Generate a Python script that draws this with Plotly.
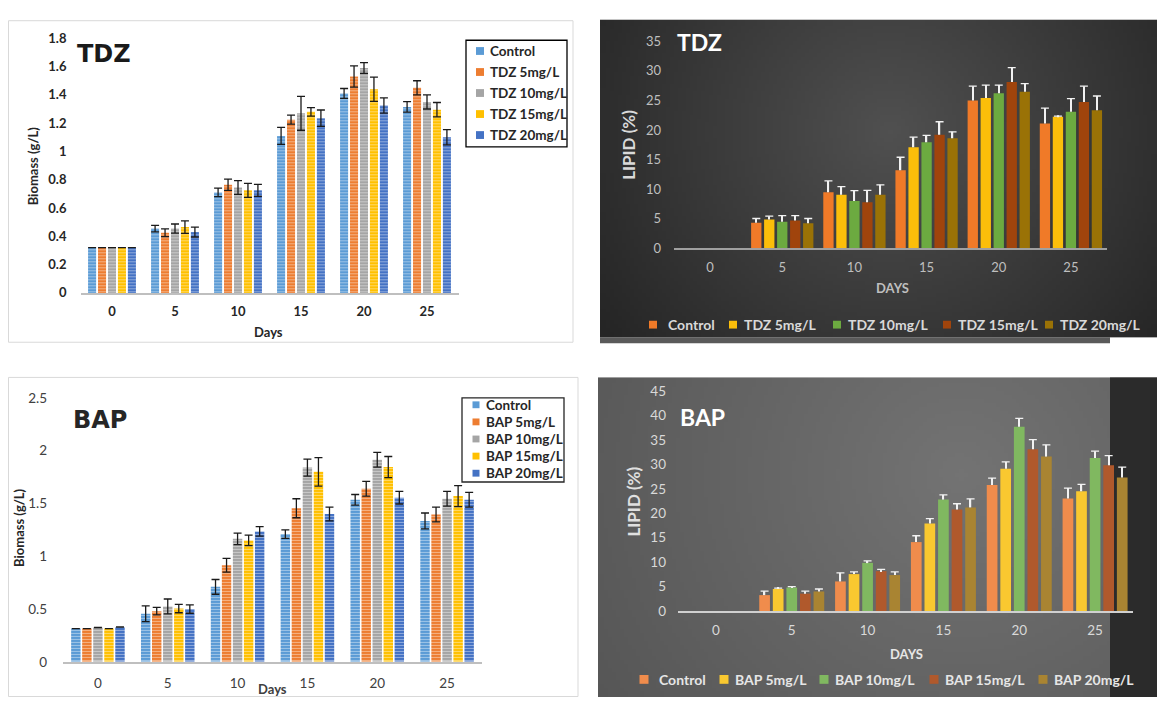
import math
import zlib
import struct
import base64
import plotly.graph_objects as go

W, H = 1157, 705

# ---------------------------------------------------------------- data
days = ["0", "5", "10", "15", "20", "25"]

tdz_names = ["Control", "TDZ 5mg/L", "TDZ 10mg/L", "TDZ 15mg/L", "TDZ 20mg/L"]
bap_names = ["Control", "BAP 5mg/L", "BAP 10mg/L", "BAP 15mg/L", "BAP 20mg/L"]

# Biomass (g/L) under TDZ
tdz_bio_control = [0.32, 0.455, 0.71, 1.11, 1.41, 1.315]
tdz_bio_5 = [0.32, 0.425, 0.765, 1.225, 1.53, 1.45]
tdz_bio_10 = [0.32, 0.455, 0.745, 1.27, 1.59, 1.35]
tdz_bio_15 = [0.32, 0.465, 0.725, 1.28, 1.44, 1.295]
tdz_bio_20 = [0.32, 0.43, 0.725, 1.235, 1.325, 1.10]
tdz_bio_control_sd = [None, 0.023, 0.03, 0.06, 0.035, 0.037]
tdz_bio_5_sd = [None, 0.027, 0.04, 0.032, 0.075, 0.05]
tdz_bio_10_sd = [None, 0.032, 0.049, 0.12, 0.038, 0.05]
tdz_bio_15_sd = [None, 0.044, 0.049, 0.03, 0.086, 0.051]
tdz_bio_20_sd = [None, 0.035, 0.042, 0.058, 0.054, 0.054]

# Lipid (%) under TDZ
tdz_lip_control = [0, 4.35, 9.5, 13.2, 25.0, 21.1]
tdz_lip_5 = [0, 4.9, 9.05, 17.1, 25.4, 22.25]
tdz_lip_10 = [0, 4.5, 8.0, 17.95, 26.2, 23.1]
tdz_lip_15 = [0, 4.7, 7.8, 19.2, 28.1, 24.75]
tdz_lip_20 = [0, 4.25, 9.05, 18.6, 26.45, 23.35]
tdz_lip_control_sd = [None, 0.7, 1.9, 2.2, 2.4, 2.6]
tdz_lip_5_sd = [None, 0.55, 1.4, 1.7, 2.2, 0.1]
tdz_lip_10_sd = [None, 1.05, 1.75, 1.15, 1.4, 2.2]
tdz_lip_15_sd = [None, 0.85, 2.0, 2.2, 2.45, 2.65]
tdz_lip_20_sd = [None, 0.8, 1.7, 1.1, 1.4, 2.4]

# Biomass (g/L) under BAP
bap_bio_control = [0.315, 0.455, 0.71, 1.21, 1.535, 1.335]
bap_bio_5 = [0.315, 0.48, 0.915, 1.455, 1.64, 1.395]
bap_bio_10 = [0.325, 0.525, 1.165, 1.84, 1.915, 1.545]
bap_bio_15 = [0.315, 0.505, 1.15, 1.8, 1.845, 1.57]
bap_bio_20 = [0.33, 0.5, 1.235, 1.4, 1.555, 1.535]
bap_bio_control_sd = [None, 0.075, 0.07, 0.04, 0.05, 0.075]
bap_bio_5_sd = [None, 0.035, 0.065, 0.09, 0.07, 0.07]
bap_bio_10_sd = [None, 0.07, 0.055, 0.08, 0.07, 0.07]
bap_bio_15_sd = [None, 0.04, 0.05, 0.135, 0.1, 0.1]
bap_bio_20_sd = [None, 0.04, 0.045, 0.065, 0.06, 0.07]

# Lipid (%) under BAP
bap_lip_control = [0, 3.25, 6.05, 14.1, 25.8, 23.0]
bap_lip_5 = [0, 4.5, 7.55, 17.9, 29.1, 24.5]
bap_lip_10 = [0, 4.8, 9.85, 22.8, 37.7, 31.3]
bap_lip_15 = [0, 3.55, 8.15, 20.75, 33.1, 29.85]
bap_lip_20 = [0, 4.0, 7.35, 21.2, 31.6, 27.3]
bap_lip_control_sd = [None, 0.8, 1.75, 1.3, 1.4, 2.15]
bap_lip_5_sd = [None, 0.2, 0.45, 1.0, 1.4, 1.4]
bap_lip_10_sd = [None, 0.2, 0.4, 0.95, 1.7, 1.4]
bap_lip_15_sd = [None, 0.5, 0.35, 1.2, 1.95, 1.95]
bap_lip_20_sd = [None, 0.5, 0.65, 1.75, 2.4, 2.15]

tdz_bio_ticks = ["0", "0.2", "0.4", "0.6", "0.8", "1", "1.2", "1.4", "1.6", "1.8"]
tdz_lip_ticks = ["0", "5", "10", "15", "20", "25", "30", "35"]
bap_bio_ticks = ["0", "0.5", "1", "1.5", "2", "2.5"]
bap_lip_ticks = ["0", "5", "10", "15", "20", "25", "30", "35", "40", "45"]

# ---------------------------------------------------------------- styles
bio_colors = ["#5B9BD5", "#ED7D31", "#A5A5A5", "#FFC000", "#4472C4"]
tdz_lip_colors = ["#F07A28", "#FBBE0A", "#6CAA40", "#A0440C", "#9A7206"]
bap_lip_colors = ["#F08C4C", "#F9C830", "#80B860", "#B0592C", "#A98432"]

FONT = "Lato"


def px(x, y):
    """Pixel position -> paper fraction."""
    return x / W, 1 - y / H


def png_uri(w, h, color_at):
    """Encode a small RGB image (used for the panel background shading)."""
    raw = bytearray()
    for j in range(h):
        raw.append(0)
        for i in range(w):
            raw.extend(color_at(i / (w - 1), j / (h - 1)))

    def chunk(tag, data):
        body = tag + data
        return struct.pack(">I", len(data)) + body + struct.pack(">I", zlib.crc32(body) & 0xFFFFFFFF)

    png = (b"\x89PNG\r\n\x1a\n"
           + chunk(b"IHDR", struct.pack(">IIBBBBB", w, h, 8, 2, 0, 0, 0))
           + chunk(b"IDAT", zlib.compress(bytes(raw), 9))
           + chunk(b"IEND", b""))
    return "data:image/png;base64," + base64.b64encode(png).decode()


def radial(cx, cy, pw, ph, radius, inner, outer):
    def f(u, v):
        d = min(1.0, math.hypot((u - cx) * pw, (v - cy) * ph) / radius)
        return [int(round(a + (b - a) * d)) for a, b in zip(inner, outer)]
    return f


fig = go.Figure()
idx = list(range(len(days)))


def axis_ids(k):
    s = "" if k == 1 else str(k)
    return "x" + s, "y" + s, "xaxis" + s, "yaxis" + s


def setup_axes(k, geom, ticks, tickfont, line_color, line_width, xstand, ystand):
    xa, ya, xkey, ykey = axis_ids(k)
    x0, x1, yt, yb = geom
    vals = [float(t) for t in ticks]
    fx0, fyb = px(x0, yb)
    fx1, fyt = px(x1, yt)
    fig.layout[xkey] = dict(
        domain=[fx0, fx1], range=[-0.5, len(days) - 0.5],
        tickmode="array", tickvals=idx, ticktext=days,
        showline=True, linecolor=line_color, linewidth=line_width,
        ticks="", showgrid=False, zeroline=False, tickfont=tickfont,
        anchor=ya, fixedrange=True, ticklabelstandoff=xstand)
    fig.layout[ykey] = dict(
        domain=[fyb, fyt], range=[0, vals[-1]],
        tickmode="array", tickvals=vals, ticktext=ticks,
        showline=False, showgrid=False, zeroline=False, ticks="",
        tickfont=tickfont, anchor=xa, fixedrange=True, ticklabelstandoff=ystand)


def slots(pitch, width, n=5):
    start = -n * pitch / 2
    return [start + i * pitch + (pitch - width) / 2 for i in range(n)]


def add_biomass(k, values, errors, pitch, width):
    xa, ya, _, _ = axis_ids(k)
    for off, vals, errs, col in zip(slots(pitch, width), values, errors, bio_colors):
        fig.add_trace(go.Bar(
            x=idx, y=vals, xaxis=xa, yaxis=ya, width=width, offset=off,
            marker=dict(color=col, line=dict(width=0),
                        pattern=dict(shape="-", bgcolor=col, fgcolor="#ffffff",
                                     fgopacity=0.45, size=3, solidity=0.3)),
            error_y=dict(type="data", array=errs, visible=True, color="#1a1a1a",
                         thickness=1.3, width=4),
            showlegend=False, hoverinfo="skip"))


def add_lipid(k, values, errors, colors, pitch, width, cat_px):
    xa, ya, _, _ = axis_ids(k)
    stem = 1.3 / cat_px
    for off, vals, errs, col in zip(slots(pitch, width), values, errors, colors):
        fig.add_trace(go.Bar(
            x=idx, y=vals, xaxis=xa, yaxis=ya, width=width, offset=off,
            marker=dict(color=col, line=dict(width=0)),
            showlegend=False, hoverinfo="skip"))
        # upward-only error bar: thin stem on top of the bar with a cap
        fig.add_trace(go.Bar(
            x=idx, y=errs, base=vals, xaxis=xa, yaxis=ya,
            width=stem, offset=off + width / 2 - stem / 2,
            marker=dict(color="#f2f2f2", line=dict(width=0)),
            error_y=dict(type="constant", value=0, visible=True, color="#f2f2f2",
                         thickness=1.3, width=4),
            showlegend=False, hoverinfo="skip"))


def label(x, y, text, size, color, bold=True, family=FONT, angle=0, xanchor="center"):
    fx, fy = px(x, y)
    fig.add_annotation(x=fx, y=fy, xref="paper", yref="paper", text=text,
                       showarrow=False, textangle=angle, xanchor=xanchor,
                       yanchor="middle",
                       font=dict(family=family, size=size, color=color,
                                 weight="bold" if bold else "normal"))


def rect(x0, y0, x1, y1, fill=None, line_color=None, line_width=0):
    a, b = px(x0, y0)
    c, d = px(x1, y1)
    fig.add_shape(type="rect", xref="paper", yref="paper", x0=a, y0=b, x1=c, y1=d,
                  layer="below", fillcolor=fill if fill else "rgba(0,0,0,0)",
                  line=dict(color=line_color or "rgba(0,0,0,0)", width=line_width))


def shade(x0, y0, x1, y1, func):
    fx, fy = px(x0, y0)
    fig.add_layout_image(source=png_uri(140, 82, func), xref="paper", yref="paper",
                         x=fx, y=fy, sizex=(x1 - x0) / W, sizey=(y1 - y0) / H,
                         sizing="stretch", xanchor="left", yanchor="top", layer="below")


# ---------------------------------------------------------------- panel backgrounds
rect(8.5, 13, 573, 342, fill="#ffffff", line_color="#d9d9d9", line_width=1)
rect(8.5, 378, 578, 704.5, fill="#ffffff", line_color="#d9d9d9", line_width=1)

shade(600, 12, W, 337, radial(0.52, 0.35, 557, 325, 380, (80, 80, 80), (34, 34, 34)))
rect(600, 337, 1110, 343, fill="#5a5a5a")

shade(598, 378, W, H, radial(0.65, 0.3, 559, 327, 520, (115, 115, 115), (80, 80, 80)))
rect(1110, 378, W, H, fill="#2b2b2b")

# ---------------------------------------------------------------- panel 1: TDZ biomass
g1 = (80.5, 458.5, 31, 291.5)
setup_axes(1, g1, tdz_bio_ticks,
           dict(family=FONT, size=13, color="#262626", weight="bold"),
           "#bfbfbf", 2, 6, 13)
add_biomass(1,
            [tdz_bio_control, tdz_bio_5, tdz_bio_10, tdz_bio_15, tdz_bio_20],
            [tdz_bio_control_sd, tdz_bio_5_sd, tdz_bio_10_sd, tdz_bio_15_sd, tdz_bio_20_sd],
            0.158, 0.128)
label(104, 47, "TDZ", 24, "#1a1a1a", family="DejaVu Sans")
label(33, 162, "Biomass (g/L)", 13, "#262626", angle=-90)
label(268, 332, "Days", 13, "#262626")

rect(466, 33, 567, 142, fill="#ffffff", line_color="#000000", line_width=1.3)
for i, (name, col) in enumerate(zip(tdz_names, bio_colors)):
    yy = 44 + 21.5 * i
    rect(476, yy - 4, 484, yy + 4, fill=col)
    label(488, yy, name, 13.5, "#262626", xanchor="left")

# ---------------------------------------------------------------- panel 2: TDZ lipid
g2 = (674, 1107, 34, 246)
setup_axes(2, g2, tdz_lip_ticks,
           dict(family=FONT, size=13, color="#bfbfbf"),
           "#a0a0a0", 1.5, 6, 12)
add_lipid(2,
          [tdz_lip_control, tdz_lip_5, tdz_lip_10, tdz_lip_15, tdz_lip_20],
          [tdz_lip_control_sd, tdz_lip_5_sd, tdz_lip_10_sd, tdz_lip_15_sd, tdz_lip_20_sd],
          tdz_lip_colors, 0.18, 0.143, 72.2)
label(699, 35, "TDZ", 23, "#ffffff")
label(629, 140, "LIPID (%)", 17, "#d9d9d9", angle=-90)
label(892, 287, "DAYS", 13, "#bfbfbf")
for name, col, sx, tx_ in zip(tdz_names, tdz_lip_colors,
                              [653, 733, 837, 947, 1049], [666, 742, 846, 956, 1058]):
    rect(sx - 4, 320, sx + 4, 328, fill=col)
    label(tx_, 324, name, 14, "#d9d9d9", xanchor="left")

# ---------------------------------------------------------------- panel 3: BAP biomass
g3 = (63, 482, 399, 669)
setup_axes(3, g3, bap_bio_ticks,
           dict(family=FONT, size=13.5, color="#404040"),
           "#bfbfbf", 2, 8, 15)
add_biomass(3,
            [bap_bio_control, bap_bio_5, bap_bio_10, bap_bio_15, bap_bio_20],
            [bap_bio_control_sd, bap_bio_5_sd, bap_bio_10_sd, bap_bio_15_sd, bap_bio_20_sd],
            0.158, 0.135)
label(100, 422, "BAP", 24, "#262626", family="DejaVu Sans")
label(19, 532, "Biomass (g/L)", 13, "#262626", angle=-90)
# axis title resting on the lower edge of the figure
fig.add_annotation(x=272 / W, y=0, xref="paper", yref="paper", text="Days",
                   showarrow=False, xanchor="center", yanchor="bottom",
                   borderpad=0, borderwidth=0,
                   font=dict(family=FONT, size=13, color="#404040", weight="bold"))

rect(462, 399, 564, 485, fill="#ffffff", line_color="#262626", line_width=1.3)
for i, (name, col) in enumerate(zip(bap_names, bio_colors)):
    yy = 406 + 17.5 * i
    rect(472.5, yy - 3.5, 479.5, yy + 3.5, fill=col)
    label(484, yy, name, 13.5, "#262626", xanchor="left")

# ---------------------------------------------------------------- panel 4: BAP lipid
g4 = (678, 1133, 392, 617)
setup_axes(4, g4, bap_lip_ticks,
           dict(family=FONT, size=13.5, color="#d9d9d9"),
           "#d0d0d0", 1.5, 6, 11)
add_lipid(4,
          [bap_lip_control, bap_lip_5, bap_lip_10, bap_lip_15, bap_lip_20],
          [bap_lip_control_sd, bap_lip_5_sd, bap_lip_10_sd, bap_lip_15_sd, bap_lip_20_sd],
          bap_lip_colors, 0.179, 0.141, 75.8)
label(702, 418, "BAP", 23, "#ffffff")
label(634, 505, "LIPID (%)", 17, "#e0e0e0", angle=-90)
label(906, 661, "DAYS", 13, "#e6e6e6")
for name, col, sx, tx_ in zip(bap_names, bap_lip_colors,
                              [644, 724, 824, 934, 1043], [657, 733, 833, 943, 1052]):
    rect(sx - 4.5, 682.5, sx + 4.5, 691.5, fill=col)
    label(tx_, 687, name, 14, "#e6e6e6", xanchor="left")

fig.update_layout(
    width=W, height=H, margin=dict(l=0, r=0, t=0, b=0),
    paper_bgcolor="#ffffff", plot_bgcolor="rgba(0,0,0,0)",
    barmode="overlay", showlegend=False,
    font=dict(family=FONT),
)

fig.write_html("out.html")
